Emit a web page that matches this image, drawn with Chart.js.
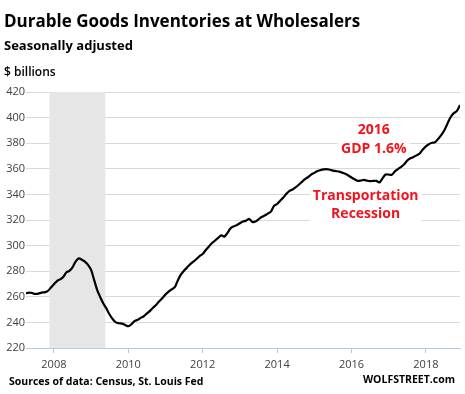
<!DOCTYPE html>
<html>
<head>
<meta charset="utf-8">
<title>Durable Goods Inventories at Wholesalers</title>
<script src="https://cdn.jsdelivr.net/npm/chart.js@4.4.1/dist/chart.umd.min.js"></script>
<style>
    html, body { margin: 0; padding: 0; background: #fff; }
    #wrap { position: relative; width: 465px; height: 394px; overflow: hidden; font-family: "Open Sans", sans-serif; }
    #wrap canvas { position: absolute; left: 0; top: 0; }
    .txt { position: absolute; white-space: nowrap; line-height: 1; color: #000; font-weight: 700; }
    #title { left: 4px; top: 12px; font-size: 17px; }
    #subtitle { left: 4px; top: 39px; font-size: 13px; }
    #unit { left: 4px; top: 66px; font-size: 12px; font-weight: 600; }
    #source { left: 9px; top: 376px; font-size: 10.5px; }
    #brand { right: 10px; top: 374px; font-size: 10.5px; }
</style>
</head>
<body>
<div id="wrap">
    <canvas id="inventoryChart" width="465" height="394"></canvas>
    <div class="txt" id="title">Durable Goods Inventories at Wholesalers</div>
    <div class="txt" id="subtitle">Seasonally adjusted</div>
    <div class="txt" id="unit">$ billions</div>
    <div class="txt" id="source">Sources of data: Census, St. Louis Fed</div>
    <div class="txt" id="brand">WOLFSTREET.com</div>
</div>
<script>
"use strict";

/* =========================================================
   DATA
========================================================= */

// first month of the series: April 2007
const startYear = 2007;
const startMonth = 4;

// monthly values, $ billions
const inventories = [
    // 2007 (Apr - Dec)
    262.7, 263.3, 263.0, 262.2, 262.5, 263.3, 263.5, 264.5, 267.0,
    // 2008
    269.8, 272.3, 273.6, 275.5, 279.0, 280.3, 283.0, 287.5, 290.0, 289.0, 287.5, 285.0,
    // 2009
    281.0, 273.0, 265.0, 259.5, 254.5, 250.5, 246.0, 242.5, 240.0, 239.3, 239.0, 238.0,
    // 2010
    237.0, 238.5, 241.0, 242.0, 243.5, 244.8, 247.0, 249.0, 251.5, 253.8, 256.5, 259.0,
    // 2011
    261.8, 264.0, 265.8, 267.5, 273.0, 277.5, 280.5, 283.0, 285.5, 287.5, 289.5, 291.8,
    // 2012
    293.5, 296.5, 299.3, 302.0, 304.0, 306.0, 308.0, 307.0, 310.0, 313.5, 315.0, 316.0,
    // 2013
    317.5, 318.8, 319.5, 320.8, 318.5, 318.8, 320.5, 322.3, 323.5, 325.0, 326.5, 331.0,
    // 2014
    332.5, 335.0, 337.5, 340.5, 342.8, 343.8, 345.5, 347.5, 349.8, 352.0, 353.5, 355.5,
    // 2015
    356.8, 358.3, 359.0, 359.5, 359.8, 359.3, 358.6, 358.2, 357.8, 357.0, 356.2, 354.8,
    // 2016
    353.2, 351.8, 350.6, 350.8, 351.3, 350.8, 350.4, 350.5, 350.6, 349.3, 352.5, 355.5,
    // 2017
    355.5, 355.3, 358.0, 359.8, 361.5, 363.5, 366.5, 368.2, 369.3, 370.5, 372.0, 375.0,
    // 2018
    377.5, 379.3, 380.3, 380.8, 383.5, 386.5, 390.3, 395.5, 400.5, 403.5, 405.2, 409.8
];

const xTicks = [2008, 2010, 2012, 2014, 2016, 2018];
const yTicks = [220, 240, 260, 280, 300, 320, 340, 360, 380, 400, 420];

// recession band (Dec 2007 - Jun 2009), decimal years
const recession = [2007.88, 2009.38];

const noteLines1 = ["2016", "GDP 1.6%"];
const noteLines2 = ["Transportation", "Recession"];


/* =========================================================
   CHART
========================================================= */

const FONT = "'Open Sans', sans-serif";

const points = inventories.map((v, i) => ({
    x: startYear + (startMonth - 1 + i) / 12,
    y: v
}));

// grey recession band and white boxes behind the red notes
const backdropPlugin = {
    id: "backdrop",
    beforeDatasetsDraw(chart) {
        const { ctx, chartArea, scales } = chart;
        const x0 = scales.x.getPixelForValue(recession[0]);
        const x1 = scales.x.getPixelForValue(recession[1]);

        ctx.save();
        ctx.fillStyle = "#e6e6e6";
        ctx.fillRect(x0, chartArea.top, x1 - x0, chartArea.bottom - chartArea.top);

        drawNote(chart, noteLines1, 2016.6, 390.3, 375.5);
        drawNote(chart, noteLines2, 2016.38, 339.0, 324.5);
        ctx.restore();
    }
};

function drawNote(chart, lines, xVal, y1Val, y2Val) {
    const { ctx, scales } = chart;
    const cx = scales.x.getPixelForValue(xVal);
    const ys = [scales.y.getPixelForValue(y1Val), scales.y.getPixelForValue(y2Val)];

    ctx.font = "bold 14px " + FONT;
    const w = Math.max(...lines.map(t => ctx.measureText(t).width)) + 6;

    ctx.fillStyle = "#ffffff";
    ctx.fillRect(cx - w / 2, ys[0] - 10, w, ys[1] - ys[0] + 20);

    ctx.fillStyle = "#f0141e";
    ctx.textAlign = "center";
    ctx.textBaseline = "middle";
    lines.forEach((t, i) => ctx.fillText(t, cx, ys[i]));
}

new Chart(document.getElementById("inventoryChart"), {
    type: "line",
    data: {
        datasets: [
            {
                data: points,
                borderColor: "#000000",
                borderWidth: 2.2,
                borderJoinStyle: "round",
                pointRadius: 0,
                tension: 0.3,
                fill: false
            }
        ]
    },
    options: {
        responsive: false,
        animation: false,
        events: [],
        layout: {
            padding: { top: 92, right: 5, bottom: 0, left: 0 }
        },
        scales: {
            x: {
                type: "linear",
                min: points[0].x,
                max: points[points.length - 1].x,
                afterBuildTicks: axis => {
                    axis.ticks = xTicks.map(v => ({ value: v }));
                },
                afterFit: axis => {
                    axis.height = 46;
                },
                grid: {
                    drawOnChartArea: false,
                    drawTicks: true,
                    tickLength: 5,
                    color: "#b4c7e7"
                },
                border: { color: "#b4c7e7" },
                ticks: {
                    font: { family: FONT, size: 11 },
                    color: "#404040",
                    padding: 5,
                    maxRotation: 0,
                    callback: v => String(v)
                }
            },
            y: {
                min: 220,
                max: 420,
                afterBuildTicks: axis => {
                    axis.ticks = yTicks.map(v => ({ value: v }));
                },
                afterFit: axis => {
                    axis.width = 26;
                },
                grid: {
                    color: "#d9d9d9",
                    drawTicks: false
                },
                border: { display: false },
                ticks: {
                    font: { family: FONT, size: 11 },
                    color: "#404040",
                    padding: 1
                }
            }
        },
        plugins: {
            legend: { display: false },
            tooltip: { enabled: false }
        }
    },
    plugins: [backdropPlugin]
});
</script>
</body>
</html>
